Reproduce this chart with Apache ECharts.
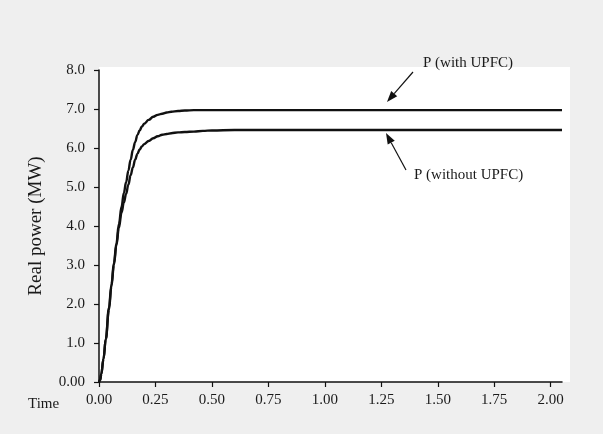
<!DOCTYPE html>
<html>
<head>
<meta charset="utf-8">
<script src="https://cdn.jsdelivr.net/npm/echarts@6/dist/echarts.min.js"></script>
<style>
html,body{margin:0;padding:0;background:#efefef;}
#chart{width:603px;height:434px;}
</style>
</head>
<body>
<div id="chart"></div>
<script>
var time = [0, 0.005, 0.01, 0.02, 0.03, 0.044, 0.055, 0.066, 0.077, 0.088, 0.1, 0.11, 0.12, 0.13, 0.14, 0.15, 0.16, 0.17, 0.18, 0.19, 0.2, 0.22, 0.24, 0.26, 0.28, 0.3, 0.32, 0.35, 0.38, 0.42, 0.46, 0.5, 0.6, 0.8, 1.0, 1.25, 1.5, 1.75, 2.05];
var pWithUPFC = [0, 0.05, 0.2, 0.6, 1.1, 1.9, 2.5, 3.05, 3.55, 4.05, 4.5, 4.85, 5.12, 5.42, 5.7, 5.95, 6.15, 6.33, 6.45, 6.55, 6.62, 6.72, 6.8, 6.85, 6.88, 6.91, 6.93, 6.95, 6.96, 6.97, 6.97, 6.97, 6.97, 6.97, 6.97, 6.97, 6.97, 6.97, 6.97];
var pWithoutUPFC = [0, 0.05, 0.2, 0.6, 1.1, 1.85, 2.45, 3.0, 3.5, 3.95, 4.35, 4.6, 4.82, 5.06, 5.3, 5.5, 5.7, 5.85, 5.96, 6.04, 6.1, 6.18, 6.25, 6.3, 6.34, 6.36, 6.38, 6.4, 6.41, 6.42, 6.44, 6.45, 6.46, 6.46, 6.46, 6.46, 6.46, 6.46, 6.46];
var xTicks = [0, 0.25, 0.5, 0.75, 1.0, 1.25, 1.5, 1.75, 2.0];
var xTickLabels = ['0.00', '0.25', '0.50', '0.75', '1.00', '1.25', '1.50', '1.75', '2.00'];
var yTickLabels = ['0.00', '1.0', '2.0', '3.0', '4.0', '5.0', '6.0', '7.0', '8.0'];
var seriesNames = ['P (with UPFC)', 'P (without UPFC)'];
var yAxisName = 'Real power (MW)';
var xAxisName = 'Time';

var FONT = '"Liberation Serif", "Times New Roman", serif';
var TXT = '#1a1a1a';

function arrow(x1, y1, x2, y2) {
  var dx = x2 - x1, dy = y2 - y1;
  var len = Math.sqrt(dx * dx + dy * dy);
  var ux = dx / len, uy = dy / len;
  var hl = 11, hw = 4;
  var bx = x2 - ux * hl, by = y2 - uy * hl;
  var px = -uy, py = ux;
  return [
    { type: 'line', shape: { x1: x1, y1: y1, x2: bx, y2: by }, style: { stroke: '#111', lineWidth: 1.2 }, silent: true },
    { type: 'polygon', shape: { points: [[x2, y2], [bx + px * hw, by + py * hw], [bx - px * hw, by - py * hw]] }, style: { fill: '#111' }, silent: true }
  ];
}

function pairs(xs, ys) {
  return xs.map(function (x, i) { return [x, ys[i]]; });
}

var chart = echarts.init(document.getElementById('chart'), null, { renderer: 'canvas' });
var graphics = [
  { type: 'rect', z: -100, shape: { x: 99, y: 67, width: 471, height: 315 }, style: { fill: '#ffffff' }, silent: true },
  { type: 'text', left: 28, top: 397, style: { text: xAxisName, font: '15px ' + FONT, fill: TXT } },
  { type: 'text', left: 423, top: 56, style: { text: seriesNames[0], font: '15px ' + FONT, fill: TXT } },
  { type: 'text', left: 414, top: 168, style: { text: seriesNames[1], font: '15px ' + FONT, fill: TXT } }
].concat(arrow(413, 72, 387, 102)).concat(arrow(406, 170, 386, 133));

chart.setOption({
  backgroundColor: '#efefef',
  animation: false,
  grid: { left: 99, right: 41, top: 70, bottom: 52, containLabel: false },
  xAxis: {
    type: 'value',
    min: 0,
    max: 2.05,
    splitLine: { show: false },
    axisLine: { onZero: false, lineStyle: { color: '#111', width: 1.5 } },
    axisTick: { length: 5, lineStyle: { color: '#111', width: 1.2 }, customValues: xTicks },
    axisLabel: {
      customValues: xTicks,
      margin: 11,
      fontFamily: FONT, fontSize: 15, color: TXT,
      formatter: function (v) {
        var i = xTicks.findIndex(function (t) { return Math.abs(t - v) < 1e-6; });
        return i >= 0 ? xTickLabels[i] : '';
      }
    }
  },
  yAxis: {
    type: 'value',
    min: 0,
    max: 8,
    interval: 1,
    name: yAxisName,
    nameLocation: 'middle',
    nameGap: 53,
    nameTextStyle: { fontFamily: FONT, fontSize: 19, color: TXT },
    splitLine: { show: false },
    axisLine: { onZero: false, lineStyle: { color: '#111', width: 1.5 } },
    axisTick: { length: 5, lineStyle: { color: '#111', width: 1.2 } },
    axisLabel: {
      margin: 14,
      fontFamily: FONT, fontSize: 15, color: TXT,
      formatter: function (v) { return yTickLabels[Math.round(v)]; }
    }
  },
  graphic: { elements: graphics },
  series: [
    { name: seriesNames[0], type: 'line', data: pairs(time, pWithUPFC), showSymbol: false, symbol: 'none', smooth: 0.4, smoothMonotone: 'x', lineStyle: { color: '#111', width: 2.4 }, z: 3 },
    { name: seriesNames[1], type: 'line', data: pairs(time, pWithoutUPFC), showSymbol: false, symbol: 'none', smooth: 0.4, smoothMonotone: 'x', lineStyle: { color: '#111', width: 2.4 }, z: 3 }
  ]
});
</script>
</body>
</html>
